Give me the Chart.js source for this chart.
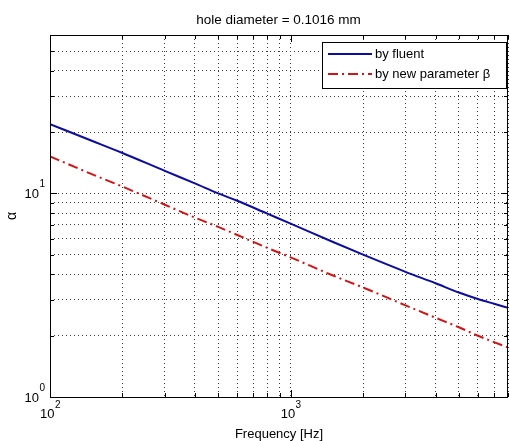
<!DOCTYPE html>
<html><head><meta charset="utf-8">
<script src="https://cdn.jsdelivr.net/npm/chart.js@4"></script>
<style>html,body{margin:0;padding:0;background:#fff}canvas{display:block}</style>
</head><body>
<canvas id="c" width="510" height="441"></canvas>
<script>
// ---- data ----
const frequencies = [100,150,200,300,400,500,600,800,1000,1500,2000,3000,4000,5000,6000,7000,8000];
const alphaFluent = [21.9,18.1,15.8,12.9,11.2,10.0,9.2,7.95,7.1,5.77,5.0,4.12,3.62,3.26,3.03,2.87,2.74];
const alphaNewBeta = [15.2,12.4,10.8,8.8,7.6,6.85,6.25,5.4,4.85,3.95,3.45,2.82,2.45,2.2,2.0,1.86,1.75];
const xGridTicks = [100,200,300,400,500,600,700,800,900,1000,2000,3000,4000,5000,6000,7000,8000];
const yGridTicks = [1,2,3,4,5,6,7,8,9,10,20,30,40,50,60];
const xMajorTicks = [100,1000];
const xMajorExp = ['2','3'];
const yMajorTicks = [1,10];
const yMajorExp = ['0','1'];
const seriesNames = ['by fluent','by new parameter \u03b2'];
const titleText = 'hole diameter = 0.1016 mm';
const xLabel = 'Frequency [Hz]';
const yLabel = '\u03b1';

const FONT = '"Liberation Sans", Arial, Helvetica, sans-serif';
const BLUE = '#0c0ca0';
const RED = '#d21414';
const RED_DASH = [10,4,2,4];

const deco = {
  id: 'deco',
  afterDraw(chart) {
    const ctx = chart.ctx, a = chart.chartArea;
    const xs = chart.scales.x, ys = chart.scales.y;
    ctx.save();
    // box
    ctx.strokeStyle = '#000'; ctx.lineWidth = 1; ctx.setLineDash([]);
    ctx.strokeRect(Math.round(a.left)+0.5, Math.round(a.top)+0.5, Math.round(a.right-a.left)-1, Math.round(a.bottom-a.top));
    // inward ticks
    ctx.beginPath();
    xGridTicks.forEach(v => {
      const px = Math.round(xs.getPixelForValue(v))+0.5;
      const L = xMajorTicks.includes(v) ? 7 : 4;
      ctx.moveTo(px, a.bottom); ctx.lineTo(px, a.bottom-L);
      ctx.moveTo(px, a.top); ctx.lineTo(px, a.top+L);
    });
    yGridTicks.forEach(v => {
      const py = Math.round(ys.getPixelForValue(v))+0.5;
      const L = yMajorTicks.includes(v) ? 7 : 4;
      ctx.moveTo(a.left, py); ctx.lineTo(a.left+L, py);
      ctx.moveTo(a.right, py); ctx.lineTo(a.right-L, py);
    });
    ctx.stroke();
    ctx.fillStyle = '#000';
    // x tick labels
    xMajorTicks.forEach((v,i) => {
      const px = xs.getPixelForValue(v);
      ctx.font = '13px ' + FONT;
      const w1 = ctx.measureText('10').width;
      ctx.font = '10px ' + FONT;
      const w2 = ctx.measureText(xMajorExp[i]).width;
      const x0 = px - (w1+w2)/2;
      ctx.textBaseline = 'middle'; ctx.textAlign = 'left';
      ctx.font = '13px ' + FONT; ctx.fillText('10', x0, a.bottom+17);
      ctx.font = '10px ' + FONT; ctx.fillText(xMajorExp[i], x0+w1+0.5, a.bottom+8);
    });
    // y tick labels
    yMajorTicks.forEach((v,i) => {
      const py = ys.getPixelForValue(v);
      ctx.font = '10px ' + FONT;
      const w2 = ctx.measureText(yMajorExp[i]).width;
      ctx.textBaseline = 'middle'; ctx.textAlign = 'right';
      ctx.fillText(yMajorExp[i], a.left-5, py-9);
      ctx.font = '13px ' + FONT;
      ctx.fillText('10', a.left-5-w2-0.5, py+1);
    });
    // title & axis labels
    ctx.textAlign = 'center'; ctx.textBaseline = 'middle';
    ctx.font = '13.5px ' + FONT;
    ctx.fillText(titleText, 278.5, 20);
    ctx.font = '13px ' + FONT;
    ctx.fillText(xLabel, 279, 434);
    ctx.save();
    ctx.translate(12, (a.top+a.bottom)/2);
    ctx.rotate(-Math.PI/2);
    ctx.font = '14px ' + FONT;
    ctx.fillText(yLabel, 0, 0);
    ctx.restore();
    // legend
    const lx = 322, ly = 42, lw = 184, lh = 46;
    ctx.fillStyle = '#fff';
    ctx.fillRect(lx, ly, lw, lh);
    ctx.strokeStyle = '#000'; ctx.lineWidth = 1;
    ctx.strokeRect(lx+0.5, ly+0.5, lw, lh);
    const rows = [ly+12, ly+32];
    ctx.lineWidth = 2;
    ctx.strokeStyle = BLUE; ctx.setLineDash([]);
    ctx.beginPath(); ctx.moveTo(328, rows[0]); ctx.lineTo(372, rows[0]); ctx.stroke();
    ctx.strokeStyle = RED; ctx.setLineDash(RED_DASH);
    ctx.beginPath(); ctx.moveTo(328, rows[1]); ctx.lineTo(372, rows[1]); ctx.stroke();
    ctx.setLineDash([]);
    ctx.fillStyle = '#000'; ctx.textAlign = 'left'; ctx.textBaseline = 'middle';
    ctx.font = '13px ' + FONT;
    ctx.fillText(seriesNames[0], 375, rows[0]);
    ctx.fillText(seriesNames[1], 375, rows[1]);
    ctx.restore();
  }
};

new Chart(document.getElementById('c'), {
  type: 'line',
  data: {
    labels: frequencies,
    datasets: [
      { label: seriesNames[0], data: frequencies.map((f,i)=>({x:f,y:alphaFluent[i]})),
        borderColor: BLUE, borderWidth: 2, pointRadius: 0, cubicInterpolationMode: 'monotone', fill: false },
      { label: seriesNames[1], data: frequencies.map((f,i)=>({x:f,y:alphaNewBeta[i]})),
        borderColor: RED, borderWidth: 2, borderDash: RED_DASH, pointRadius: 0, cubicInterpolationMode: 'monotone', fill: false }
    ]
  },
  options: {
    responsive: false, animation: false, devicePixelRatio: 1,
    layout: { padding: { left: 50, right: 2, top: 35, bottom: 44 } },
    plugins: { legend: { display: false }, title: { display: false }, tooltip: { enabled: false } },
    scales: {
      x: { type: 'logarithmic', min: 100, max: 8000,
        afterBuildTicks: s => { s.ticks = xGridTicks.map(v => ({ value: v })); },
        ticks: { display: false },
        grid: { color: '#3a3a3a', lineWidth: 1, drawTicks: false },
        border: { display: false, dash: [1,3] } },
      y: { type: 'logarithmic', min: 1, max: 60,
        afterBuildTicks: s => { s.ticks = yGridTicks.map(v => ({ value: v })); },
        ticks: { display: false },
        grid: { color: '#3a3a3a', lineWidth: 1, drawTicks: false },
        border: { display: false, dash: [1,3] } }
    }
  },
  plugins: [deco]
});
</script>
</body></html>
